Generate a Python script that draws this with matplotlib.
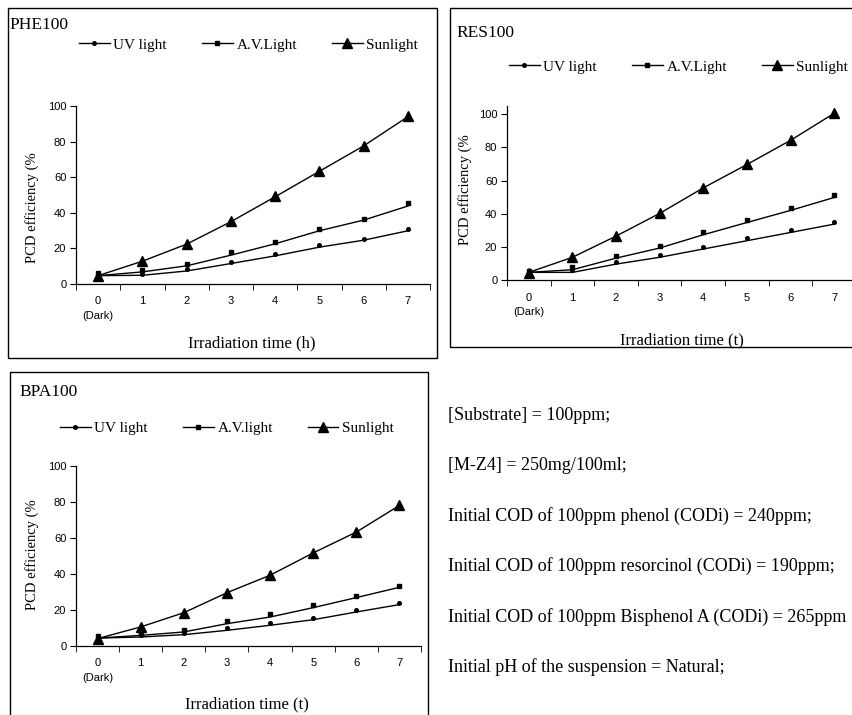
import matplotlib
import matplotlib.pyplot as plt
from matplotlib.lines import Line2D
from matplotlib.patches import Rectangle

matplotlib.use("Agg")

W, H = 853, 715
SERIF = "Liberation Serif"
SANS = "Liberation Sans"

hours = [0, 1, 2, 3, 4, 5, 6, 7]
hour_labels = ["0", "1", "2", "3", "4", "5", "6", "7"]
series_names = ["UV light", "A.V.Light", "Sunlight"]
series_names_bpa = ["UV light", "A.V.light", "Sunlight"]

# measured points
phe_uv = [6.2, 5.8, 8.6, 12.4, 16.9, 21.8, 25.4, 31.0]
phe_av = [6.2, 7.7, 11.5, 17.7, 23.7, 31.0, 36.7, 45.3]
phe_sun = [4.7, 13.0, 22.6, 35.3, 49.2, 63.5, 77.8, 94.5]
res_uv = [5.6, 5.8, 11.0, 14.9, 19.9, 25.1, 29.9, 34.7]
res_av = [5.6, 7.6, 14.7, 20.7, 29.1, 36.1, 43.2, 51.0]
res_sun = [4.2, 13.7, 26.5, 40.2, 55.6, 69.7, 84.3, 100.6]
bpa_uv = [5.6, 5.9, 7.2, 9.8, 12.8, 15.7, 19.8, 23.9]
bpa_av = [5.6, 6.9, 8.7, 13.9, 18.0, 23.0, 27.8, 33.5]
bpa_sun = [4.1, 10.6, 18.5, 29.6, 39.3, 51.7, 63.3, 78.1]

# trend lines
phe_uv_fit = [4.7, 4.9, 7.3, 11.5, 15.8, 20.7, 24.6, 29.9]
phe_av_fit = [4.7, 6.8, 10.2, 16.2, 22.6, 29.9, 35.9, 43.8]
phe_sun_fit = [4.7, 12.8, 22.4, 35.0, 49.0, 63.3, 77.6, 94.0]
res_uv_fit = [4.6, 4.6, 9.6, 13.7, 18.7, 23.7, 28.7, 33.7]
res_av_fit = [4.6, 6.2, 13.2, 19.3, 27.3, 34.7, 42.0, 49.8]
res_sun_fit = [4.6, 13.7, 26.5, 40.2, 55.6, 69.7, 84.3, 100.6]
bpa_uv_fit = [4.4, 5.0, 6.3, 8.7, 11.5, 14.6, 18.9, 23.0]
bpa_av_fit = [4.4, 5.9, 7.8, 12.4, 16.1, 21.3, 26.9, 32.6]
bpa_sun_fit = [4.1, 10.6, 18.5, 29.6, 39.3, 51.7, 63.3, 78.1]

notes = [
    "[Substrate] = 100ppm;",
    "[M-Z4] = 250mg/100ml;",
    "Initial COD of 100ppm phenol (CODi) = 240ppm;",
    "Initial COD of 100ppm resorcinol (CODi) = 190ppm;",
    "Initial COD of 100ppm Bisphenol A (CODi) = 265ppm",
    "Initial pH of the suspension = Natural;",
]

markers = ["o", "s", "^"]
marker_sizes = [2.6, 3.2, 7]

fig = plt.figure(figsize=(W / 100, H / 100), dpi=100)


def fx(px):
    return px / W


def fy(py):
    return 1 - py / H


def add_box(x0, y0, x1, y1):
    fig.patches.append(Rectangle((fx(x0), fy(y1)), fx(x1 - x0), (y1 - y0) / H,
                                 transform=fig.transFigure, fill=False,
                                 edgecolor="black", linewidth=1.0))


def panel(rect, ymax, pts, fits, names, title, title_xy, legend_x, legend_y,
          xlabel, xlabel_xy, ylabel_xy):
    x0, y0, x1, y1 = rect
    ax = fig.add_axes([fx(x0), fy(y1), fx(x1 - x0), (y1 - y0) / H])
    for p, f, m, ms in zip(pts, fits, markers, marker_sizes):
        ax.plot(hours, f, color="black", linewidth=1.0, clip_on=False)
        ax.plot(hours, p, linestyle="none", marker=m, markersize=ms,
                color="black", clip_on=False)
    ax.set_xlim(-0.5, 7.5)
    ax.set_ylim(0, ymax)
    ax.set_xticks(hours)
    ax.set_xticklabels(hour_labels, fontfamily=SANS, fontsize=8)
    ax.set_xticks([h - 0.5 for h in hours] + [7.5], minor=True)
    ax.tick_params(axis="x", which="major", length=0, pad=9)
    ax.tick_params(axis="x", which="minor", length=4, direction="out")
    ax.set_yticks([0, 20, 40, 60, 80, 100])
    ax.set_yticklabels(["0", "20", "40", "60", "80", "100"],
                       fontfamily=SANS, fontsize=8)
    ax.tick_params(axis="y", length=4, direction="out", pad=3)
    for side in ("top", "right"):
        ax.spines[side].set_visible(False)
    for side in ("left", "bottom"):
        ax.spines[side].set_linewidth(0.9)
    ax.patch.set_alpha(0)
    ax.annotate("(Dark)", xy=(0, 0), xycoords="data", xytext=(0, -23),
                textcoords="offset points", ha="center", va="center",
                fontfamily=SANS, fontsize=8)

    handles = [Line2D([], [], color="black", linewidth=1.0, marker=m,
                      markersize=ms) for m, ms in zip(markers, marker_sizes)]
    fig.legend(handles, names, loc="center left",
               bbox_to_anchor=(fx(legend_x), fy(legend_y)), ncol=3,
               frameon=False, prop={"family": SERIF, "size": 11},
               handlelength=2.0, handletextpad=0.25, columnspacing=2.3,
               borderpad=0, borderaxespad=0)

    fig.text(fx(title_xy[0]), fy(title_xy[1]), title, fontfamily=SERIF,
             fontsize=12.5, ha="left", va="center")
    fig.text(fx(xlabel_xy[0]), fy(xlabel_xy[1]), xlabel, fontfamily=SERIF,
             fontsize=12, ha="center", va="center")
    fig.text(fx(ylabel_xy[0]), fy(ylabel_xy[1]), "PCD efficiency (%",
             fontfamily=SERIF, fontsize=10.5, rotation=90,
             ha="center", va="center")
    return ax


add_box(8, 8, 437, 358)
add_box(450, 8, 870, 347)
add_box(10, 372, 428, 730)

panel((76, 106, 430, 284), 100, [phe_uv, phe_av, phe_sun],
      [phe_uv_fit, phe_av_fit, phe_sun_fit], series_names, "PHE100",
      (9, 25), 79, 45, "Irradiation time (h)", (252, 343), (32, 208))

panel((507, 106, 856, 280), 105, [res_uv, res_av, res_sun],
      [res_uv_fit, res_av_fit, res_sun_fit], series_names, "RES100",
      (456, 33), 509, 67, "Irradiation time (t)", (682, 340), (465, 190))

panel((76, 466, 421, 646), 100, [bpa_uv, bpa_av, bpa_sun],
      [bpa_uv_fit, bpa_av_fit, bpa_sun_fit], series_names_bpa, "BPA100",
      (19, 392), 60, 428, "Irradiation time (t)", (247, 704), (32, 555))

for i, line in enumerate(notes):
    fig.text(fx(448), fy(415 + i * 50.4), line, fontfamily=SERIF,
             fontsize=13, ha="left", va="center")

fig.savefig("out.png", dpi=100)
